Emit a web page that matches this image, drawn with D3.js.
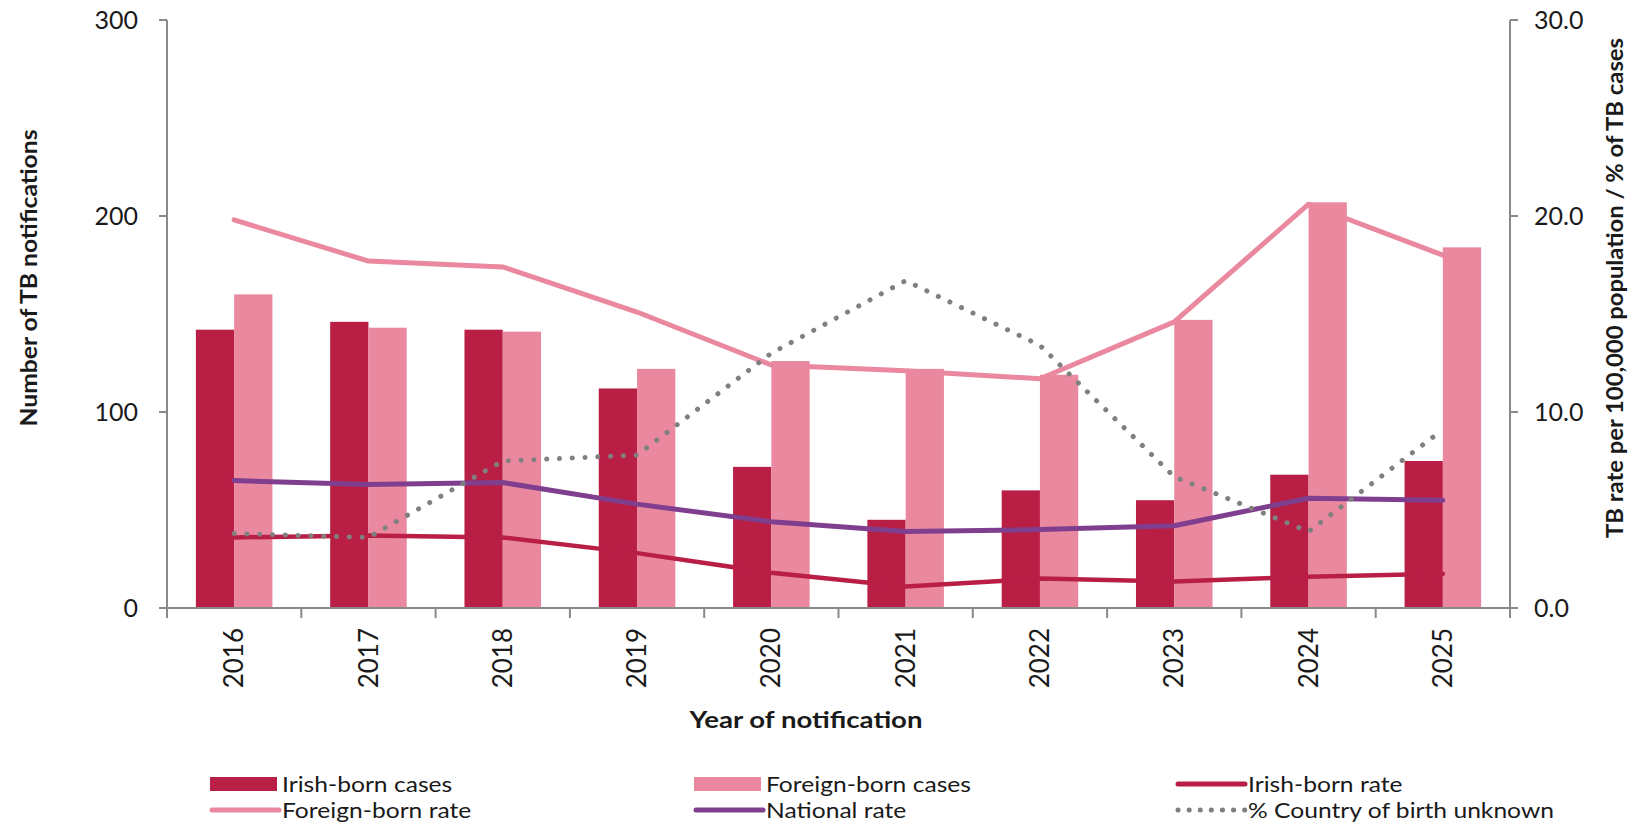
<!DOCTYPE html>
<html>
<head>
<meta charset="utf-8">
<script src="https://cdn.jsdelivr.net/npm/d3@7"></script>
<style>
  html, body { margin: 0; padding: 0; background: #fff; }
  svg { display: block; }
  text { font-family: Lato, "Open Sans", sans-serif; fill: #1a1a1a; }
</style>
</head>
<body>
<svg id="chart" width="1632" height="827"></svg>
<script>
const years = ["2016","2017","2018","2019","2020","2021","2022","2023","2024","2025"];
const irishCases   = [142, 146, 142, 112, 72, 45, 60, 55, 68, 75];
const foreignCases = [160, 143, 141, 122, 126, 122, 119, 147, 207, 184];
const irishRate    = [3.6, 3.7, 3.6, 2.8, 1.8, 1.1, 1.5, 1.35, 1.6, 1.75];
const foreignRate  = [19.8, 17.7, 17.4, 15.1, 12.4, 12.1, 11.7, 14.6, 20.6, 18.0];
const nationalRate = [6.5, 6.3, 6.4, 5.3, 4.4, 3.9, 4.0, 4.2, 5.6, 5.5];
const unknownPct   = [3.8, 3.6, 7.5, 7.8, 13.0, 16.7, 13.4, 6.7, 3.9, 9.1];
const leftTicks  = [0, 100, 200, 300];
const rightTicks = [0, 10, 20, 30];

const C = {
  irish: "#B91F45", foreign: "#EA889F", national: "#7F3F8E",
  unknown: "#808080", axis: "#8A8A8A"
};

const svg = d3.select("#chart");
const L = 167, R = 1510, T = 20, B = 608;

const x = d3.scaleBand().domain(years).range([L, R]).paddingInner(0.43).paddingOuter(0.215);
const xs = d3.scaleBand().domain(["irish", "foreign"]).range([0, x.bandwidth()]);
const yL = d3.scaleLinear().domain([0, 300]).range([B, T]);
const yR = d3.scaleLinear().domain([0, 30]).range([B, T]);

// bars
const g = svg.append("g");
g.selectAll("rect.irish").data(years).join("rect")
  .attr("x", d => x(d) + xs("irish")).attr("width", xs.bandwidth())
  .attr("y", (d, i) => yL(irishCases[i])).attr("height", (d, i) => yL(0) - yL(irishCases[i]))
  .attr("fill", C.irish);
g.selectAll("rect.foreign").data(years).join("rect")
  .attr("x", d => x(d) + xs("foreign")).attr("width", xs.bandwidth())
  .attr("y", (d, i) => yL(foreignCases[i])).attr("height", (d, i) => yL(0) - yL(foreignCases[i]))
  .attr("fill", C.foreign);

// lines
const cx = d => x(d) + x.bandwidth() / 2;
function drawLine(vals, color, width, dash) {
  const line = d3.line().x((v, i) => cx(years[i])).y(v => yR(v));
  const p = svg.append("path").datum(vals).attr("d", line)
    .attr("fill", "none").attr("stroke", color).attr("stroke-width", width)
    .attr("stroke-linejoin", "round").attr("stroke-linecap", "round");
  if (dash) p.attr("stroke-dasharray", dash);
}
drawLine(foreignRate, C.foreign, 5);
drawLine(irishRate, C.irish, 4.5);
drawLine(nationalRate, C.national, 5);
drawLine(unknownPct, C.unknown, 5, "0.1 12.7");

// axes
const axG = svg.append("g");
axG.append("line").attr("x1", L).attr("x2", L).attr("y1", T).attr("y2", B).attr("stroke", C.axis).attr("stroke-width", 2);
axG.append("line").attr("x1", R).attr("x2", R).attr("y1", T).attr("y2", B).attr("stroke", C.axis).attr("stroke-width", 2);
axG.append("line").attr("x1", L - 8).attr("x2", R + 8).attr("y1", B).attr("y2", B).attr("stroke", C.axis).attr("stroke-width", 2);

leftTicks.forEach(t => {
  axG.append("line").attr("x1", L - 8).attr("x2", L).attr("y1", yL(t)).attr("y2", yL(t)).attr("stroke", C.axis).attr("stroke-width", 2);
  axG.append("text").attr("x", L - 29).attr("y", yL(t)).attr("dy", "0.35em")
    .attr("text-anchor", "end").attr("font-size", 25).text(d3.format("d")(t));
});
rightTicks.forEach(t => {
  axG.append("line").attr("x1", R).attr("x2", R + 8).attr("y1", yR(t)).attr("y2", yR(t)).attr("stroke", C.axis).attr("stroke-width", 2);
  axG.append("text").attr("x", R + 24).attr("y", yR(t)).attr("dy", "0.35em")
    .attr("text-anchor", "start").attr("font-size", 25).text(d3.format(".1f")(t));
});
// x ticks at band boundaries
const step = x.step();
d3.range(years.length + 1).forEach(i => {
  const xx = L + i * step;
  axG.append("line").attr("x1", xx).attr("x2", xx).attr("y1", B).attr("y2", B + 10).attr("stroke", C.axis).attr("stroke-width", 2);
});
years.forEach(yv => {
  axG.append("text").attr("transform", `translate(${cx(yv)},${B + 20}) rotate(-90)`)
    .attr("text-anchor", "end").attr("dy", "0.35em").attr("font-size", 26).text(yv);
});

// axis titles
svg.append("text").attr("transform", `translate(37,278) rotate(-90)`)
  .attr("text-anchor", "middle").attr("font-size", 22).attr("font-weight", "bold")
  .attr("textLength", 297).attr("lengthAdjust", "spacingAndGlyphs")
  .text("Number of TB notifications");
svg.append("text").attr("transform", `translate(1623,288) rotate(-90)`)
  .attr("text-anchor", "middle").attr("font-size", 22).attr("font-weight", "bold")
  .attr("textLength", 500).attr("lengthAdjust", "spacingAndGlyphs")
  .text("TB rate per 100,000 population / % of TB cases");
svg.append("text").attr("x", 806).attr("y", 728)
  .attr("text-anchor", "middle").attr("font-size", 23).attr("font-weight", "bold")
  .attr("textLength", 233).attr("lengthAdjust", "spacingAndGlyphs")
  .text("Year of notification");

// legend
const legendItems = [
  {label: "Irish-born cases", type: "rect", color: C.irish, col: 0, row: 0},
  {label: "Foreign-born cases", type: "rect", color: C.foreign, col: 1, row: 0},
  {label: "Irish-born rate", type: "line", color: C.irish, col: 2, row: 0},
  {label: "Foreign-born rate", type: "line", color: C.foreign, col: 0, row: 1},
  {label: "National rate", type: "line", color: C.national, col: 1, row: 1},
  {label: "% Country of birth unknown", type: "dot", color: C.unknown, col: 2, row: 1}
];
const colX = [210, 694, 1176];
const rowY = [784, 810];
const lg = svg.append("g");
legendItems.forEach(it => {
  const x0 = colX[it.col], yc = rowY[it.row];
  if (it.type === "rect") {
    lg.append("rect").attr("x", x0).attr("y", yc - 7).attr("width", 67).attr("height", 14).attr("fill", it.color);
  } else {
    const l = lg.append("line").attr("x1", x0 + 2).attr("x2", x0 + 69).attr("y1", yc).attr("y2", yc)
      .attr("stroke", it.color).attr("stroke-width", 5).attr("stroke-linecap", "round");
    if (it.type === "dot") l.attr("stroke-dasharray", "0.1 11");
  }
  lg.append("text").attr("transform", `translate(${x0 + 72},${yc}) scale(1.12,1)`).attr("dy", "0.35em")
    .attr("font-size", 22).text(it.label);
});
</script>
</body>
</html>
